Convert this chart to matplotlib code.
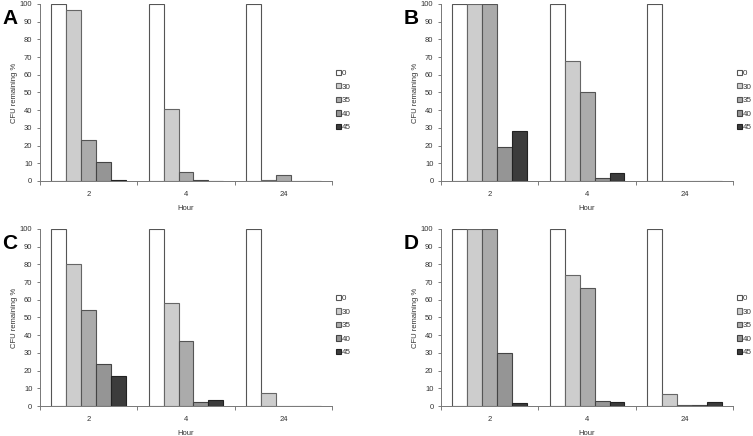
import numpy as np
import matplotlib.pyplot as plt

plt.rcParams['font.family'] = ['Liberation Sans', 'DejaVu Sans']

hours = ['2', '4', '24']
series = ['0', '30', '35', '40', '45']

# CFU remaining %, one list per series (values at hour 2, 4, 24)
a_vals = [[100, 100, 100], [96.5, 40.5, 0.8], [23, 5, 3.5], [11, 0.3, 0], [0.8, 0, 0]]
b_vals = [[100, 100, 100], [100, 68, 0.2], [100, 50.5, 0.2], [19, 1.5, 0.2], [28, 4.3, 0.2]]
c_vals = [[100, 100, 100], [80.5, 58, 7.3], [54, 36.5, 0.2], [23.5, 2.5, 0.1], [17, 3.5, 0]]
d_vals = [[100, 100, 100], [100, 74, 6.5], [100, 66.5, 0.3], [30, 2.8, 0.3], [1.5, 2.2, 2]]

colors = ['#ffffff', '#cdcdcd', '#ababab', '#959595', '#3c3c3c']
edges = ['#555555', '#666666', '#555555', '#444444', '#222222']

fig = plt.figure(figsize=(7.53, 4.36), dpi=100)

panels = [('A', a_vals, 0.0531, 0.5849), ('B', b_vals, 0.5857, 0.5849),
          ('C', c_vals, 0.0531, 0.0688), ('D', d_vals, 0.5857, 0.0688)]

w = 1 / 6.5
x = np.arange(len(hours))
for letter, vals, left, bottom in panels:
    ax = fig.add_axes([left, bottom, 0.3878, 0.406])
    for i, s in enumerate(series):
        ax.bar(x + (i - 2) * w, vals[i], width=w, color=colors[i],
               edgecolor=edges[i], linewidth=0.8, label=s)
    ax.set_xlim(-0.5, 2.5)
    ax.set_ylim(0, 100)
    ax.set_yticks(range(0, 101, 10))
    ax.set_xticks([-0.5, 0.5, 1.5, 2.5])
    ax.set_xticklabels([])
    ax.set_xticks(x, minor=True)
    ax.set_xticklabels(hours, minor=True)
    ax.tick_params(axis='x', which='minor', length=0, pad=7, labelsize=5.5, colors='#333333')
    ax.tick_params(axis='x', which='major', length=3, width=0.6, color='#666666')
    ax.tick_params(axis='y', length=2.5, width=0.6, color='#666666', labelsize=5.5,
                   labelcolor='#333333', pad=3)
    for sp in ['top', 'right']:
        ax.spines[sp].set_visible(False)
    for sp in ['left', 'bottom']:
        ax.spines[sp].set_color('#777777')
        ax.spines[sp].set_linewidth(0.7)
    ax.set_ylabel('CFU remaining %', fontsize=5.5, color='#333333', labelpad=1.5)
    ax.set_xlabel('Hour', fontsize=5.5, color='#333333', labelpad=5)
    leg = ax.legend(loc='center left', bbox_to_anchor=(1.012, 0.455), frameon=False,
                    fontsize=5.8, handlelength=0.65, handleheight=0.65,
                    handletextpad=0.15, labelspacing=0.75, borderpad=0, borderaxespad=0)
    for t in leg.get_texts():
        t.set_color('#333333')
    fig.text(left - 0.05, bottom + 0.406 - 0.012, letter, fontsize=15,
             fontweight='bold', ha='left', va='top')

fig.savefig('out.png', dpi=100)
